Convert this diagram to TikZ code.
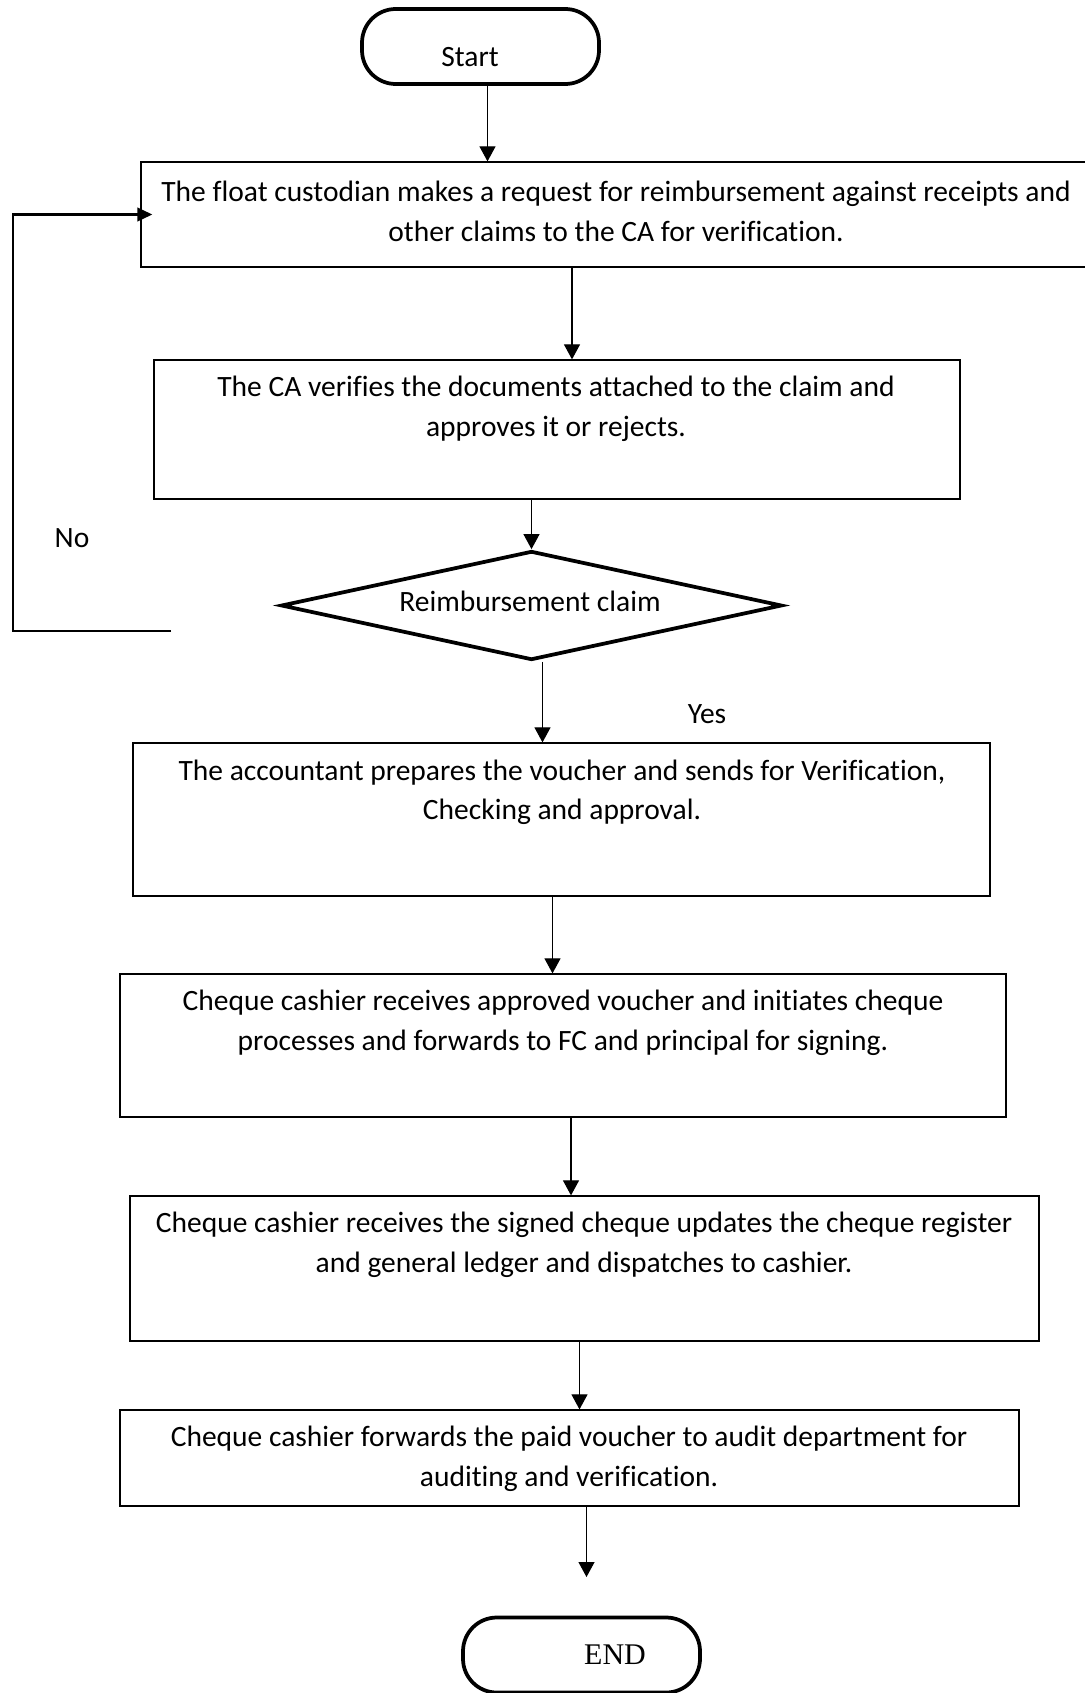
\documentclass[tikz,border=0pt]{standalone}
\usepackage{fontspec}
\setmainfont{Carlito}[Ligatures=NoCommon]
\newfontfamily\endfont{Liberation Serif}
\usepackage{tikz}
\usetikzlibrary{shapes.geometric,arrows.meta,calc}

\tikzset{
    procbox/.style={draw, line width=0.5pt, inner sep=0pt},
    termbox/.style={draw, line width=1.5pt, rounded corners=13.5pt, inner sep=0pt,
                    minimum width=94.8pt, minimum height=30pt},
    decbox/.style={draw, diamond, line width=1.5pt, inner sep=0pt},
    txt/.style={align=center, inner sep=0pt, font=\fontsize{11.8}{15.8}\selectfont},
    flow/.style={line width=0.45pt, -{Triangle[length=6pt, width=6.4pt]}},
    backflow/.style={line width=0.9pt, -{Triangle[length=6pt, width=5.4pt]}}
}

\begin{document}
\begin{tikzpicture}[x=0.4pt, y=-0.4pt]
    \useasboundingbox (0,0) rectangle (1085,1693);

    % Terminals
    \node[termbox] (start) at (480.5,46.5) {};
    \node[txt] (starttxt) at (470,57) {Start};
    \node[termbox] (finish) at (581.5,1655) {};
    \node[inner sep=0pt, font=\endfont\fontsize{12}{14}\selectfont] (finishtxt) at (615,1655) {END};

    % Process boxes
    \node[procbox, minimum width=381.6pt, minimum height=42pt] (request) at (618,214.5) {};
    \node[txt] (requesttxt) at (616,211.5) {The float custodian makes a request for reimbursement against receipts and\\other claims to the CA for verification.};

    \node[procbox, minimum width=322.4pt, minimum height=55.6pt] (verify) at (557,429.5) {};
    \node[txt] (verifytxt) at (556,409) {The CA verifies the documents attached to the claim and\\approves it or rejects.};

    % Decision
    \node[decbox, minimum width=200.4pt, minimum height=43.6pt] (claim) at (531.5,605.5) {};
    \node[txt] (claimtxt) at (530,601) {Reimbursement claim};
    \node[txt] (yes) at (707,714) {Yes};
    \node[txt] (no) at (72,538) {No};

    \node[procbox, minimum width=342.8pt, minimum height=61.2pt] (voucher) at (561.5,819.5) {};
    \node[txt] (vouchertxt) at (562,792.5) {The accountant prepares the voucher and sends for Verification,\\Checking and approval.};

    \node[procbox, minimum width=354.4pt, minimum height=57.2pt] (cheque) at (563,1045.5) {};
    \node[txt] (chequetxt) at (563,1023) {Cheque cashier receives approved voucher and initiates cheque\\processes and forwards to FC and principal for signing.};

    \node[procbox, minimum width=363.6pt, minimum height=58pt] (ledger) at (584.5,1268.5) {};
    \node[txt] (ledgertxt) at (584,1245) {Cheque cashier receives the signed cheque updates the cheque register\\and general ledger and dispatches to cashier.};

    \node[procbox, minimum width=359.6pt, minimum height=38.4pt] (audit) at (569.5,1458) {};
    \node[txt] (audittxt) at (569,1459) {Cheque cashier forwards the paid voucher to audit department for\\auditing and verification.};

    % Connectors
    \draw[flow] ([shift={(7,0)}]start.south) -- ([shift={(7,0)}]start.south |- request.north);
    \draw[flow] ([shift={(-46,0)}]request.south) -- ([shift={(-46,0)}]request.south |- verify.north);
    \draw[flow] (verify.south -| claim.north) -- (claim.north);
    \draw[flow] ([shift={(11,0)}]claim.south) -- ([shift={(11,0)}]claim.south |- voucher.north);
    \draw[flow] ([shift={(-9,0)}]voucher.south) -- ([shift={(-9,0)}]voucher.south |- cheque.north);
    \draw[flow] ([shift={(8,0)}]cheque.south) -- ([shift={(8,0)}]cheque.south |- ledger.north);
    \draw[flow] ([shift={(-5,0)}]ledger.south) -- ([shift={(-5,0)}]ledger.south |- audit.north);
    \coordinate (auditend) at (586.5,1577);
    \draw[flow] (audit.south -| auditend) -- (auditend);

    % No loop back
    \coordinate (noend) at (171,631);
    \draw[backflow] (noend) -- ++(-158,0) |- ([shift={(12,0)}]request.west);
\end{tikzpicture}
\end{document}
